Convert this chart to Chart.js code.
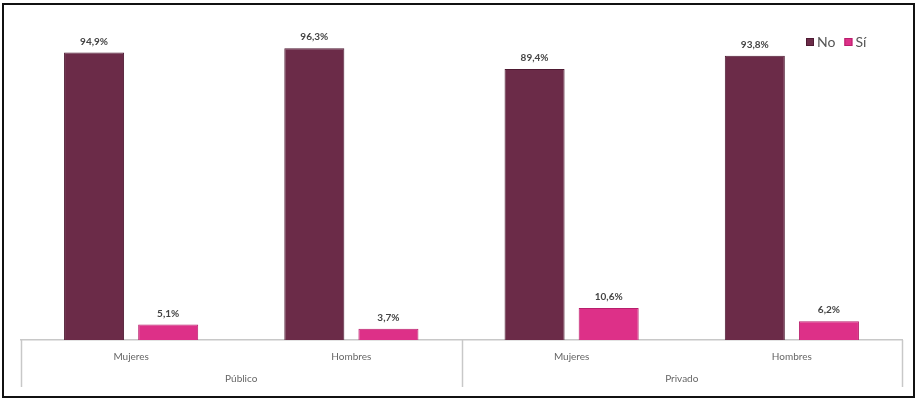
<!DOCTYPE html>
<html>
<head>
<meta charset="utf-8">
<script src="https://cdn.jsdelivr.net/npm/chart.js@4/dist/chart.umd.min.js"></script>
<style>
  html, body { margin: 0; padding: 0; background: #fff; }
  #wrap { position: relative; width: 917px; height: 399px; }
  #frame { position: absolute; left: 2px; top: 3px; width: 909px; height: 391px; border: 2px solid #111; pointer-events: none; }
</style>
</head>
<body>
<div id="wrap">
  <canvas id="chart" width="917" height="399"></canvas>
  <div id="frame"></div>
</div>
<script>
const categories = ["Mujeres", "Hombres", "Mujeres", "Hombres"];
const groups = ["Público", "Privado"];
const seriesNo = [94.9, 96.3, 89.4, 93.8];
const seriesSi = [5.1, 3.7, 10.6, 6.2];

const colorNo = "#6b2b48";
const colorSi = "#dd3088";

function formatPct(v) {
  return v.toFixed(1).replace(".", ",") + "%";
}

// labels above bars, group row, separators and legend
const extrasPlugin = {
  id: "extras",
  afterDatasetsDraw(chart) {
    const ctx = chart.ctx;
    const area = chart.chartArea;
    const xScale = chart.scales.x;

    ctx.save();
    ctx.font = "bold 10px Lato, 'Liberation Sans', sans-serif";
    ctx.fillStyle = "#444";
    ctx.textAlign = "center";
    ctx.textBaseline = "bottom";
    chart.data.datasets.forEach((ds, i) => {
      chart.getDatasetMeta(i).data.forEach((bar, j) => {
        ctx.fillText(formatPct(ds.data[j]), bar.x, bar.y - 6);
      });
    });

    // group separators
    ctx.strokeStyle = "#c8c8c8";
    ctx.lineWidth = 1.5;
    const bottom = area.bottom + 47;
    const mid = (xScale.getPixelForValue(1) + xScale.getPixelForValue(2)) / 2;
    [area.left, mid, area.right].forEach((x) => {
      ctx.beginPath();
      ctx.moveTo(Math.round(x) + 0.5, area.bottom);
      ctx.lineTo(Math.round(x) + 0.5, bottom);
      ctx.stroke();
    });

    // group labels
    ctx.font = "10px Lato, 'Liberation Sans', sans-serif";
    ctx.fillStyle = "#666";
    ctx.textBaseline = "middle";
    groups.forEach((g, k) => {
      const x = (xScale.getPixelForValue(k * 2) + xScale.getPixelForValue(k * 2 + 1)) / 2;
      ctx.fillText(g, x, area.bottom + 39);
    });

    // legend
    ctx.font = "14px Lato, 'Liberation Sans', sans-serif";
    ctx.textAlign = "left";
    let lx = 806;
    const ly = 42;
    chart.data.datasets.forEach((ds) => {
      ctx.fillStyle = ds.backgroundColor;
      ctx.fillRect(lx, ly - 4, 8, 8);
      ctx.strokeStyle = ds.borderColor;
      ctx.lineWidth = 1;
      ctx.strokeRect(lx + 0.5, ly - 3.5, 7, 7);
      ctx.fillStyle = "#555";
      ctx.fillText(ds.label, lx + 11, ly);
      lx += 11 + ctx.measureText(ds.label).width + 9;
    });
    ctx.restore();
  },
};

new Chart(document.getElementById("chart").getContext("2d"), {
  type: "bar",
  data: {
    labels: categories,
    datasets: [
      {
        label: "No",
        data: seriesNo,
        backgroundColor: colorNo,
        borderColor: "#4e1a32",
        borderWidth: 1,
      },
      {
        label: "Sí",
        data: seriesSi,
        backgroundColor: colorSi,
        borderColor: "#b81f6c",
        borderWidth: 1,
      },
    ],
  },
  options: {
    responsive: false,
    animation: false,
    devicePixelRatio: 1,
    layout: { padding: { left: 21, right: 15, top: 37, bottom: 0 } },
    datasets: {
      bar: { categoryPercentage: 0.673, barPercentage: 0.81 },
    },
    scales: {
      x: {
        grid: { display: false },
        border: { color: "#c8c8c8", width: 1.5 },
        ticks: {
          color: "#666",
          font: { family: "Lato, 'Liberation Sans', sans-serif", size: 10 },
          padding: 3,
          maxRotation: 0,
        },
        afterFit(scale) {
          scale.height = 59;
        },
      },
      y: {
        display: false,
        min: 0,
        max: 100,
      },
    },
    plugins: {
      legend: { display: false },
      tooltip: { enabled: false },
    },
  },
  plugins: [extrasPlugin],
});
</script>
</body>
</html>
